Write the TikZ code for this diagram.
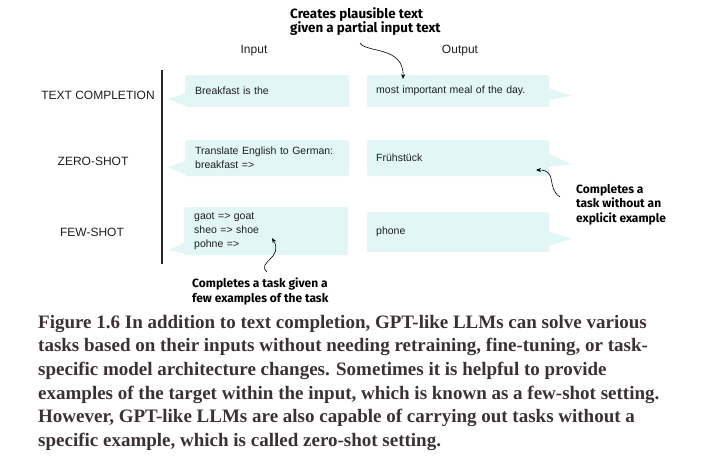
\documentclass[tikz,border=0pt]{standalone}
\usepackage{fontspec}
\setmainfont{Liberation Serif}
\setsansfont{Liberation Sans}
\newfontfamily\annfont{Fira Sans}
\usetikzlibrary{arrows.meta}
\definecolor{boxfill}{RGB}{226,247,245}
\definecolor{captext}{RGB}{58,50,50}
\definecolor{txt}{RGB}{30,30,30}
\tikzset{
  inbox/.style={fill=boxfill, rounded corners=2pt, anchor=north west, minimum width=164pt, text width=144pt, inner xsep=10pt, inner ysep=0pt, align=left, font=\sffamily\fontsize{10.5}{14}\selectfont, text=txt},
  outbox/.style={fill=boxfill, rounded corners=2pt, anchor=north west, minimum width=182pt, text width=164pt, inner xsep=9pt, inner ysep=0pt, align=left, font=\sffamily\fontsize{10.5}{14}\selectfont, text=txt},
  tail/.style={fill=boxfill},
  rowlabel/.style={font=\sffamily\fontsize{12}{14}\selectfont, text=txt},
  colhead/.style={font=\sffamily\fontsize{12}{14}\selectfont, text=txt},
  ann/.style={font=\annfont\bfseries\fontsize{12}{14.5}\selectfont, align=left, anchor=north west, inner sep=0pt},
  annarrow/.style={draw=black, line width=0.6pt, -{Stealth[length=5pt,width=4pt]}},
  caption/.style={font=\bfseries\fontsize{19}{23.6}\selectfont, text=captext, align=left, anchor=north west, inner sep=0pt}
}
\begin{document}
\begin{tikzpicture}[x=1pt,y=-1pt]
\useasboundingbox (0,0) rectangle (720,470);
% column heads
\node[colhead] (hin) at (254,51) {Input};
\node[colhead] (hout) at (460,51) {Output};
% row labels
\node[rowlabel] (l1) at (98,95) {TEXT COMPLETION};
\node[rowlabel] (l2) at (93,161) {ZERO-SHOT};
\node[rowlabel] (l3) at (92,232) {FEW-SHOT};
% vertical rule
\coordinate (vtop) at (162,70);
\coordinate (vbot) at (162,264);
\draw[line width=1.1pt, draw=black!85] (vtop) -- (vbot);
% tails (drawn first)
\fill[tail] (186,93) -- (168,99) -- (186,106) -- cycle;
\fill[tail] (186,161) -- (168,167) -- (186,175) -- cycle;
\fill[tail] (186,242) -- (168,250) -- (186,254) -- cycle;
\fill[tail] (548,88) -- (572,96) -- (548,100) -- cycle;
\fill[tail] (548,154) -- (572,164) -- (548,167) -- cycle;
\fill[tail] (548,231) -- (572,239) -- (548,246) -- cycle;
% input boxes
\node[inbox, minimum height=32pt] (in1) at (185,75) {Breakfast is the};
\node[inbox, minimum height=36pt] (in2) at (185,140) {Translate English to German:\\breakfast =>};
\node[inbox, minimum height=48pt] (in3) at (184,207) {gaot => goat\\sheo => shoe\\pohne =>};
% output boxes
\node[outbox, minimum height=32pt] (out1) at (367,75) {most important meal of the day.};
\node[outbox, minimum height=36pt] (out2) at (367,140) {Frühstück};
\node[outbox, minimum height=40pt] (out3) at (367,212) {phone};
% annotations
\node[ann, font=\annfont\bfseries\fontsize{13.4}{14.5}\selectfont] (a1) at (290,7) {Creates plausible text\\given a partial input text};
\node[ann] (a2) at (576,184) {Completes a\\task without an\\explicit example};
\node[ann] (a3) at (192,278) {Completes a task given a\\few examples of the task};
\coordinate (a1s) at (360,43);
\coordinate (a1e) at (403,79);
\coordinate (a2s) at (560,197);
\coordinate (a2e) at (536,170);
\coordinate (a3s) at (267,272);
\coordinate (a3e) at (272,238);
\draw[annarrow] (a1s) .. controls (366,53) and (404,46) .. (a1e);
\draw[annarrow] (a2s) .. controls (546,188) and (558,170) .. (a2e);
\draw[annarrow] (a3s) .. controls (256,262) and (284,258) .. (a3e);
% caption
\node[caption] (cap) at (38,315) {Figure 1.6 In addition to text completion, GPT-like LLMs can solve various\\
tasks based on their inputs without needing retraining, fine-tuning, or task-\\
specific model architecture changes. Sometimes it is helpful to provide\\
examples of the target within the input, which is known as a few-shot setting.\\
However, GPT-like LLMs are also capable of carrying out tasks without a\\
specific example, which is called zero-shot setting.};
\end{tikzpicture}
\end{document}
